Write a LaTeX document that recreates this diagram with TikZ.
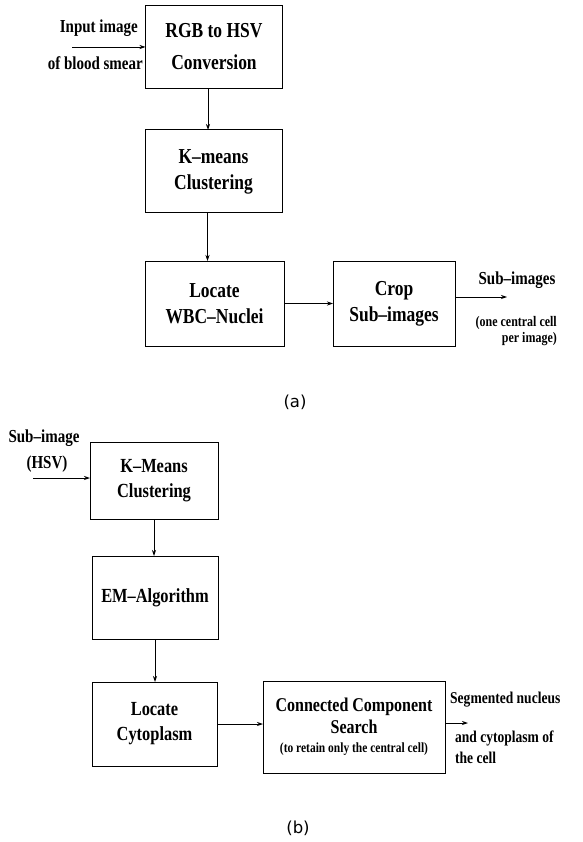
\documentclass[tikz,border=0pt]{standalone}
\usepackage{fontspec}
\setmainfont{Liberation Serif}[FakeStretch=0.82]
\newfontfamily\capfont{DejaVu Sans}
\usetikzlibrary{arrows.meta}

\begin{document}
\begin{tikzpicture}[x=1pt,y=-1pt]
  \useasboundingbox (0,0) rectangle (582,842);
  \tikzset{BoxStyle/.style = {
    shape         = rectangle,
    draw          = black,
    fill          = white,
    line width    = 1pt,
    text          = black,
    align         = center,
    inner sep     = 2pt,
    outer sep     = 0pt,
    font          = \fontsize{21.3}{26}\selectfont\bfseries
    }
  }
  \tikzset{SmallBoxStyle/.style = {
    BoxStyle,
    font          = \fontsize{20}{25}\selectfont\bfseries
    }
  }
  \tikzset{EdgeStyle/.style = {
    draw          = black,
    line width    = 0.8pt,
    -{Stealth[length=6pt,width=4pt]}
    }
  }
  \tikzset{TextStyle/.style = {
    inner sep     = 0pt,
    text          = black,
    font          = \fontsize{18.3}{20}\selectfont\bfseries
    }
  }
  \tikzset{NoteStyle/.style = {
    inner sep     = 0pt,
    text          = black,
    font          = \fontsize{14.6}{16}\selectfont\bfseries
    }
  }
  \tikzset{CaptionStyle/.style = {
    inner sep     = 0pt,
    font          = \capfont\fontsize{16.5}{18}\selectfont
    }
  }

  % (a)
	\node[BoxStyle, minimum width=137, minimum height=83,
	      font=\fontsize{21.3}{32}\selectfont\bfseries](A1) at (214, 47) {RGB to HSV\\Conversion};
	\node[BoxStyle, minimum width=137, minimum height=83](A2) at (213.5, 171.5) {K--means\\Clustering};
	\node[BoxStyle, minimum width=139, minimum height=85](A3) at (214.5, 303.5) {Locate\\WBC--Nuclei};
	\node[BoxStyle, minimum width=122, minimum height=85](A4) at (394, 303.5) {Crop\\Sub--images};

	\node[TextStyle, anchor=east](T1) at (138, 28) {Input image};
	\node[TextStyle, anchor=east](T2) at (143, 63) {of blood smear};
	\node[TextStyle](T3) at (517, 280) {Sub--images};
	\node[NoteStyle, anchor=east, align=right](T4) at (557, 331) {(one central cell\\per image)};
	\node[CaptionStyle](CA) at (295, 402) {(a)};

	\coordinate (ain) at (72, 47);
	\coordinate (aout) at (507, 297);

	\draw[EdgeStyle](ain) to (ain -| A1.west);
	\draw[EdgeStyle]([xshift=-6]A1.south) to ([xshift=-6]A1.south |- A2.north);
	\draw[EdgeStyle]([xshift=-6]A2.south) to ([xshift=-6]A2.south |- A3.north);
	\draw[EdgeStyle](A3) to (A4);
	\draw[EdgeStyle](A4.east |- aout) to (aout);

  % (b)
	\node[SmallBoxStyle, minimum width=128, minimum height=77](B1) at (154, 480.5) {K--Means\\Clustering};
	\node[SmallBoxStyle, minimum width=126, minimum height=83](B2) at (155, 597.5) {EM--Algorithm};
	\node[SmallBoxStyle, minimum width=125, minimum height=84](B3) at (154.5, 724) {Locate\\Cytoplasm};
	\node[SmallBoxStyle, minimum width=182, minimum height=92,
	      font=\fontsize{19.5}{22}\selectfont\bfseries](B4) at (354, 727)
	      {Connected Component\\Search\\[-3pt]{\fontsize{14}{14}\selectfont(to retain only the central cell)}};

	\node[TextStyle](S1) at (44, 438) {Sub--image};
	\node[TextStyle](S2) at (47, 464) {(HSV)};
	\node[TextStyle, anchor=west, font=\fontsize{16.5}{18}\selectfont\bfseries](S3) at (450, 700) {Segmented nucleus};
	\node[TextStyle, anchor=west, font=\fontsize{16.5}{18}\selectfont\bfseries](S4) at (455, 738) {and cytoplasm of};
	\node[TextStyle, anchor=west, font=\fontsize{16.5}{18}\selectfont\bfseries](S5) at (455, 758) {the cell};
	\node[CaptionStyle](CB) at (298, 828) {(b)};

	\coordinate (bin) at (33, 478);
	\coordinate (bout) at (468, 723);

	\draw[EdgeStyle](bin) to (bin -| B1.west);
	\draw[EdgeStyle](B1) to (B1 |- B2.north);
	\draw[EdgeStyle](B2) to (B2 |- B3.north);
	\draw[EdgeStyle](B3) to (B3 -| B4.west);
	\draw[EdgeStyle](B4.east |- bout) to (bout);

\end{tikzpicture}
\end{document}
